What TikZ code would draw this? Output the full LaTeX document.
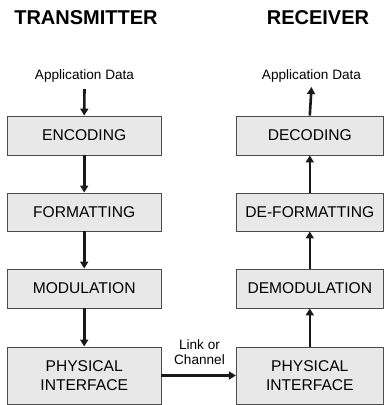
\documentclass[tikz,border=0pt]{standalone}
\usepackage{fontspec}
\setmainfont{Liberation Sans}
\usepackage{tikz}
\usetikzlibrary{arrows.meta,positioning}

\begin{document}
\begin{tikzpicture}[x=1pt,y=-1pt,
  block/.style={draw=black!70,line width=0.9pt,fill=black!9,align=center,
    font=\fontsize{15.6}{19}\selectfont,inner sep=0pt},
  lblock/.style={block,minimum width=153.5pt},
  rblock/.style={block,minimum width=147pt},
  flow/.style={line width=2.6pt,draw=black!90,-{Triangle[length=7pt,width=8pt]}},
  title/.style={font=\fontsize{20}{24}\selectfont\bfseries},
  small/.style={font=\fontsize{13.6}{15.5}\selectfont,align=center,inner sep=0pt}]
\useasboundingbox (0,0) rectangle (384,405);
% headings
\node[title] (tx) at (86,17.5) {TRANSMITTER};
\node[title] (rx) at (318,17.5) {RECEIVER};
% transmitter side
\node[small] (appin) at (84.5,75.5) {Application Data};
\node[lblock,minimum height=39pt] (enc) at (84.2,135.5) {ENCODING};
\node[lblock,minimum height=38pt] (fmt) at (84.2,212) {FORMATTING};
\node[lblock,minimum height=39pt] (mod) at (84.2,288.5) {MODULATION};
\node[lblock,minimum height=57pt] (phyt) at (84.2,375.5) {PHYSICAL\\INTERFACE};
% receiver side
\node[small] (appout) at (311.5,75.5) {Application Data};
\node[rblock,minimum height=39pt] (dec) at (309.8,135.5) {DECODING};
\node[rblock,minimum height=38pt] (dfmt) at (309.8,212) {DE-FORMATTING};
\node[rblock,minimum height=39pt] (dmod) at (309.8,288.5) {DEMODULATION};
\node[rblock,minimum height=57pt] (phyr) at (309.8,375.5) {PHYSICAL\\INTERFACE};
\node[small] (link) at (199.5,352) {Link or\\Channel};

\draw[flow] ([yshift=-7pt]appin.south) -- (enc.north);
\draw[flow] (enc) -- (fmt);
\draw[flow] (fmt) -- (mod);
\draw[flow] (mod) -- (phyt);
\draw[flow] (phyt) -- (phyr);
\draw[flow] (phyr) -- (dmod);
\draw[flow] (dmod) -- (dfmt);
\draw[flow] (dfmt) -- (dec);
\draw[flow] (dec.north) -- ([yshift=-5pt]appout.south);
\end{tikzpicture}
\end{document}
